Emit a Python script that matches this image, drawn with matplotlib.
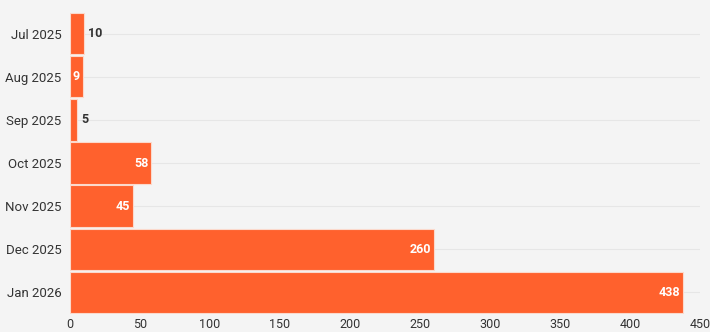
import matplotlib
matplotlib.use("Agg")
import matplotlib.pyplot as plt

months = ["Jul 2025", "Aug 2025", "Sep 2025", "Oct 2025", "Nov 2025", "Dec 2025", "Jan 2026"]
counts = [10, 9, 5, 58, 45, 260, 438]
xticks = [0, 50, 100, 150, 200, 250, 300, 350, 400, 450]

bg = "#f4f4f4"
bar_color = "#ff612d"

fig = plt.figure(figsize=(7.1, 3.32), dpi=100, facecolor=bg)
ax = fig.add_axes([70/710, 1 - 314/332, 630/710, (314 - 12)/332], facecolor=bg)

ypos = list(range(len(months)))
ax.barh(ypos, counts, height=0.96, color=bar_color, edgecolor="#fbd9cc", linewidth=0.8, zorder=3)
ax.set_ylim(len(months) - 0.5, -0.5)
ax.set_xlim(0, 450)
ax.set_yticks(ypos)
ax.set_yticklabels(months, fontsize=9.5, color="#333333", family="Roboto")
ax.set_xticks(xticks)
ax.set_xticklabels([str(t) for t in xticks], fontsize=9, color="#333333", family="Roboto")
ax.tick_params(axis="y", length=0, pad=6)
ax.tick_params(axis="x", length=0, pad=3)
for s in ax.spines.values():
    s.set_visible(False)
ax.grid(axis="y", color="#e6e6e6", linewidth=0.8, zorder=0)

for y, v in zip(ypos, counts):
    if v == 9 or v >= 20:
        ax.text(v - 2, y, str(v), ha="right", va="center", color="white",
                fontsize=9, fontweight="bold", family="Roboto", zorder=4)
    else:
        ax.text(v + 3, y, str(v), ha="left", va="center", color="#333333",
                fontsize=9, fontweight="bold", family="Roboto", zorder=4)

fig.savefig("out.png", dpi=100, facecolor=bg)
